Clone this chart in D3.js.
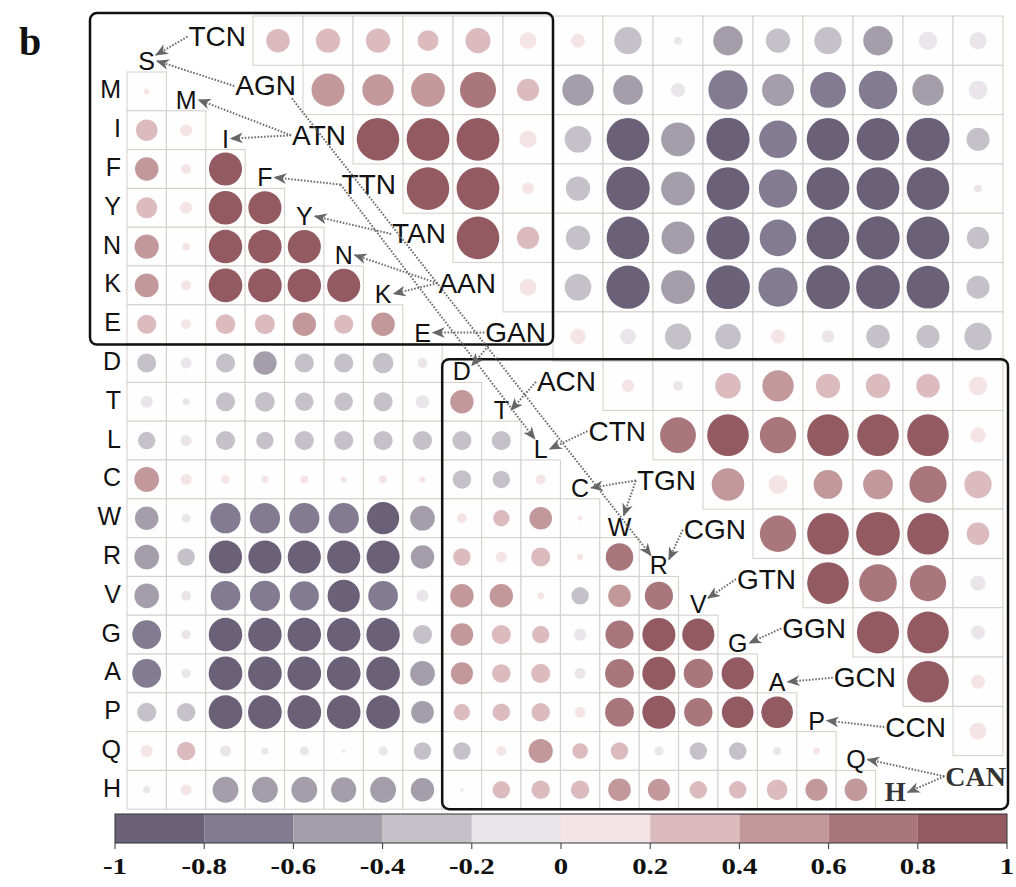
<!DOCTYPE html>
<html>
<head>
<meta charset="utf-8">
<script src="https://cdn.jsdelivr.net/npm/d3@7"></script>
<style>
  body { margin: 0; background: #fff; }
  svg { display: block; }
</style>
</head>
<body>
<svg id="chart"></svg>
<script>
// amino acids in plot order (diagonal of the lower matrix)
const aminoAcids = ["S","M","I","F","Y","N","K","E","D","T","L","C","W","R","V","G","A","P","Q","H"];
// codon families in plot order (diagonal of the upper matrix)
const codons = ["TCN","AGN","ATN","TTN","TAN","AAN","GAN","ACN","CTN","TGN","CGN","GTN","GGN","GCN","CCN","CAN"];

// lower triangle: row k (aminoAcids[k+1]) against columns 0..k
const aaCorr = [
  [0.03],
  [0.38, 0.12],
  [0.45, 0.08, 0.9],
  [0.36, 0.12, 0.92, 0.9],
  [0.48, 0.05, 0.92, 0.92, 0.9],
  [0.47, 0.08, 0.93, 0.93, 0.92, 0.9],
  [0.3, 0.08, 0.32, 0.33, 0.45, 0.3, 0.45],
  [-0.3, -0.1, -0.3, -0.45, -0.3, -0.3, -0.35, -0.08],
  [-0.12, -0.04, -0.3, -0.32, -0.28, -0.28, -0.3, -0.15, 0.45],
  [-0.25, -0.1, -0.3, -0.25, -0.3, -0.3, -0.3, -0.3, -0.3, -0.3],
  [0.5, 0.1, 0.06, 0.04, 0.05, 0.03, 0.05, 0.03, -0.28, -0.25, 0.08],
  [-0.45, -0.06, -0.75, -0.75, -0.75, -0.75, -0.85, -0.5, 0.08, 0.22, 0.42, 0.02],
  [-0.5, -0.25, -0.9, -0.9, -0.9, -0.9, -0.9, -0.45, 0.25, 0.1, 0.3, 0.03, 0.62],
  [-0.5, -0.08, -0.72, -0.75, -0.7, -0.85, -0.72, -0.12, 0.45, 0.45, 0.04, -0.25, 0.42, 0.65],
  [-0.68, -0.07, -0.92, -0.92, -0.92, -0.92, -0.92, -0.3, 0.42, 0.3, 0.25, -0.12, 0.65, 0.9, 0.85],
  [-0.68, -0.07, -0.93, -0.93, -0.93, -0.93, -0.93, -0.5, 0.4, 0.28, 0.3, -0.1, 0.68, 0.9, 0.7, 0.85],
  [-0.3, -0.28, -0.93, -0.93, -0.93, -0.93, -0.93, -0.42, 0.22, 0.25, 0.28, 0.1, 0.68, 0.9, 0.66, 0.82, 0.82],
  [0.12, 0.28, -0.1, -0.04, -0.07, 0.01, -0.07, -0.25, -0.25, 0.08, 0.48, 0.2, 0.25, -0.07, -0.25, -0.25, -0.05, 0.04],
  [-0.04, 0.1, -0.55, -0.55, -0.55, -0.52, -0.55, -0.45, 0.01, 0.25, 0.28, 0.28, 0.42, 0.4, 0.25, 0.25, 0.35, 0.4, 0.42]
];

// upper triangle: row i (codons[i]) against columns i+1..15
const codonCorr = [
  [0.28, 0.3, 0.3, 0.22, 0.32, 0.14, 0.1, -0.38, -0.03, -0.44, -0.3, -0.38, -0.44, -0.17, -0.15],
  [0.55, 0.5, 0.58, 0.66, 0.25, -0.5, -0.45, -0.1, -0.78, -0.52, -0.65, -0.75, -0.5, -0.18],
  [0.92, 0.93, 0.93, 0.15, -0.36, -0.93, -0.58, -0.95, -0.72, -0.92, -0.92, -0.95, -0.27],
  [0.92, 0.93, 0.07, -0.3, -0.96, -0.58, -0.93, -0.75, -0.93, -0.93, -0.92, -0.03],
  [0.92, 0.25, -0.3, -0.92, -0.55, -0.95, -0.68, -0.93, -0.95, -0.93, -0.25],
  [0.15, -0.36, -0.95, -0.58, -0.97, -0.78, -0.97, -0.97, -0.93, -0.27],
  [0.12, -0.12, -0.35, -0.33, 0.1, -0.08, -0.28, -0.27, -0.38],
  [0.08, -0.05, 0.33, 0.5, 0.3, 0.3, 0.28, 0.18],
  [0.65, 0.88, 0.67, 0.88, 0.88, 0.88, 0.12],
  [0.54, 0.18, 0.42, 0.45, 0.7, 0.38],
  [0.67, 0.88, 0.97, 0.88, 0.26],
  [0.88, 0.72, 0.67, -0.12],
  [0.9, 0.88, -0.1],
  [0.88, 0.1],
  [0.15]
];

// colour bins of the legend
const colorBreaks = [-0.8, -0.6, -0.4, -0.2, 0, 0.2, 0.4, 0.6, 0.8];
const binColors = ["#6a6179","#837b91","#a49daa","#c5c1c9","#e9e5e8",
                   "#f4e4e7","#dbbbbe","#c2989b","#a9777b","#935a62"];
const legendTicks = [-1, -0.8, -0.6, -0.4, -0.2, 0, 0.2, 0.4, 0.6, 0.8, 1];

// codon family -> amino acid arrows [codon, aa, from side, to side]
const links = [
  ["TCN","S","l","tr"], ["AGN","S","l","r"], ["AGN","R","br","tl"],
  ["ATN","M","l","r"], ["ATN","I","l","r"], ["TTN","F","l","r"], ["TTN","L","l","tl"],
  ["TAN","Y","l","r"], ["AAN","N","l","r"], ["AAN","K","l","r"],
  ["GAN","E","l","r"], ["GAN","D","bl","tr"], ["ACN","T","l","r"],
  ["CTN","L","l","r"], ["TGN","C","l","r"], ["TGN","W","l","t"],
  ["CGN","R","l","tr"], ["GTN","V","l","tr"], ["GGN","G","l","r"],
  ["GCN","A","l","r"], ["CCN","P","l","r"], ["CAN","Q","l","r"], ["CAN","H","l","r"]
];

const W = 1016, H = 887;
const sans = "'Liberation Sans', Arial, sans-serif";
const serif = "'Liberation Serif', 'Times New Roman', serif";

const svg = d3.select("#chart").attr("width", W).attr("height", H);
svg.append("rect").attr("width", W).attr("height", H).attr("fill", "#fff");

// scales
const xAA = d3.scaleBand().domain(aminoAcids).range([127, 127 + 39.4 * 20]);
const yAA = d3.scaleBand().domain(aminoAcids).range([33.2, 33.2 + 38.8 * 20]);
const xCod = d3.scaleBand().domain(codons).range([203, 1003]);
const yCod = d3.scaleBand().domain(codons).range([16, 805]);
const color = d3.scaleThreshold().domain(colorBreaks).range(binColors);

const lowerCells = aaCorr.flatMap((row, k) =>
  row.map((v, j) => ({ r: aminoAcids[k + 1], c: aminoAcids[j], v })));
const upperCells = codonCorr.flatMap((row, i) =>
  row.map((v, k) => ({ r: codons[i], c: codons[i + 1 + k], v })));

function drawCells(cells, xs, ys, cls) {
  const size = Math.min(xs.bandwidth(), ys.bandwidth());
  const g = svg.append("g").attr("class", cls);
  g.selectAll("rect").data(cells).join("rect")
    .attr("x", d => xs(d.c)).attr("y", d => ys(d.r))
    .attr("width", xs.bandwidth()).attr("height", ys.bandwidth())
    .attr("fill", "#fefefe").attr("stroke", "#d3cec9").attr("stroke-width", 1);
  g.selectAll("circle").data(cells).join("circle")
    .attr("cx", d => xs(d.c) + xs.bandwidth() / 2)
    .attr("cy", d => ys(d.r) + ys.bandwidth() / 2)
    .attr("r", d => 0.45 * Math.sqrt(Math.abs(d.v)) * size)
    .attr("fill", d => color(d.v));
}
drawCells(lowerCells, xAA, yAA, "lower");
drawCells(upperCells, xCod, yCod, "upper");

// rounded boxes
const box = svg.append("g").attr("fill", "none").attr("stroke", "#111")
  .attr("stroke-width", 2.5);
box.append("rect")
  .attr("x", 90).attr("y", 13)
  .attr("width", xCod("ACN") - 90)
  .attr("height", yAA("E") + yAA.bandwidth() + 1 - 13)
  .attr("rx", 7);
box.append("rect")
  .attr("x", xAA("D")).attr("y", yCod("ACN") - 2)
  .attr("width", 1008 - xAA("D"))
  .attr("height", yAA("H") + yAA.bandwidth() - yCod("ACN") + 2)
  .attr("rx", 7);

// row labels
svg.append("g").selectAll("text").data(aminoAcids.slice(1)).join("text")
  .attr("x", 121).attr("y", d => yAA(d) + yAA.bandwidth() / 2 + 7)
  .attr("text-anchor", "end")
  .attr("font-family", sans).attr("font-size", 25).attr("fill", "#111")
  .text(d => d);

// diagonal amino acid labels
const aaLabels = {};
svg.append("g").selectAll("text").data(aminoAcids).join("text")
  .attr("x", d => xAA(d) + xAA.bandwidth() / 2)
  .attr("y", d => yAA(d) + yAA.bandwidth() - (d === "H" ? 8 : 2))
  .attr("text-anchor", "middle")
  .attr("font-family", d => d === "H" ? serif : sans)
  .attr("font-weight", d => d === "H" ? "bold" : "normal")
  .attr("font-size", d => d === "H" ? 27 : 25)
  .attr("fill", d => d === "H" ? "#333" : "#111")
  .text(d => d)
  .each(function (d) { aaLabels[d] = this.getBBox(); });

// codon labels, right aligned before first cell of their row
const codLabels = {};
svg.append("g").selectAll("text").data(codons).join("text")
  .attr("x", (d, i) => i < codons.length - 1 ? xCod(codons[i + 1]) - 7 : xCod.range()[1] + 3)
  .attr("y", d => yCod(d) + yCod.bandwidth() / 2 - 4)
  .attr("dominant-baseline", "central")
  .attr("text-anchor", "end")
  .attr("font-family", d => d === "CAN" ? serif : sans)
  .attr("font-weight", d => d === "CAN" ? "bold" : "normal")
  .attr("font-size", 28)
  .attr("fill", d => d === "CAN" ? "#333" : "#111")
  .text(d => d)
  .each(function (d) { codLabels[d] = this.getBBox(); });

// arrows
svg.append("defs").append("marker")
  .attr("id", "head").attr("viewBox", "0 0 12 10")
  .attr("refX", 11).attr("refY", 5)
  .attr("markerWidth", 13).attr("markerHeight", 11)
  .attr("markerUnits", "userSpaceOnUse").attr("orient", "auto")
  .append("path").attr("d", "M0,0 L12,5 L0,10 L3.5,5 Z").attr("fill", "#666");

function srcPoint(b, side) {
  const cy = b.y + b.height / 2;
  if (side === "bl") return [b.x + 3, b.y + b.height - 2];
  if (side === "br") return [b.x + b.width - 4, b.y + b.height - 3];
  return [b.x - 1, cy];
}
function tgtPoint(b, side) {
  const cy = b.y + b.height / 2;
  if (side === "tr") return [b.x + b.width + 1, b.y + 8];
  if (side === "tl") return [b.x + 1, b.y + 4];
  if (side === "t") return [b.x + b.width / 2 + 4, b.y + 3];
  return [b.x + b.width + 2, cy];
}

svg.append("g").selectAll("line").data(links).join("line")
  .attr("x1", d => srcPoint(codLabels[d[0]], d[2])[0])
  .attr("y1", d => srcPoint(codLabels[d[0]], d[2])[1])
  .attr("x2", d => tgtPoint(aaLabels[d[1]], d[3])[0])
  .attr("y2", d => tgtPoint(aaLabels[d[1]], d[3])[1])
  .attr("stroke", "#6e6e6e").attr("stroke-width", 2)
  .attr("stroke-dasharray", "1.6,1.6")
  .attr("marker-end", "url(#head)");

// colour bar
const xLeg = d3.scaleLinear().domain([-1, 1]).range([115, 1007]);
const legTop = 814, legH = 29;
const bins = legendTicks.slice(0, -1).map((t, i) => ({ a: t, b: legendTicks[i + 1] }));
const leg = svg.append("g");
leg.selectAll("rect").data(bins).join("rect")
  .attr("x", d => xLeg(d.a)).attr("y", legTop)
  .attr("width", d => xLeg(d.b) - xLeg(d.a)).attr("height", legH)
  .attr("fill", d => color((d.a + d.b) / 2));
leg.append("rect").attr("x", xLeg(-1)).attr("y", legTop)
  .attr("width", xLeg(1) - xLeg(-1)).attr("height", legH)
  .attr("fill", "none").attr("stroke", "#333").attr("stroke-width", 1);

leg.selectAll("line.tick").data(legendTicks).join("line")
  .attr("class", "tick")
  .attr("x1", d => xLeg(d)).attr("x2", d => xLeg(d))
  .attr("y1", legTop + legH).attr("y2", legTop + legH + 6)
  .attr("stroke", "#333").attr("stroke-width", 1);
// tick labels: wide bold serif, as in the source figure
leg.selectAll("text").data(legendTicks).join("text")
  .attr("transform", d => `translate(${xLeg(d)},${legTop + legH + 31}) scale(1.2,1)`)
  .attr("text-anchor", "middle")
  .attr("font-family", serif).attr("font-weight", "bold").attr("font-size", 24)
  .attr("fill", "#111")
  .text(d => String(d));

// panel letter
svg.append("text").attr("x", 19).attr("y", 55)
  .attr("font-family", serif).attr("font-weight", "bold").attr("font-size", 40)
  .attr("fill", "#111").text("b");
</script>
</body>
</html>
